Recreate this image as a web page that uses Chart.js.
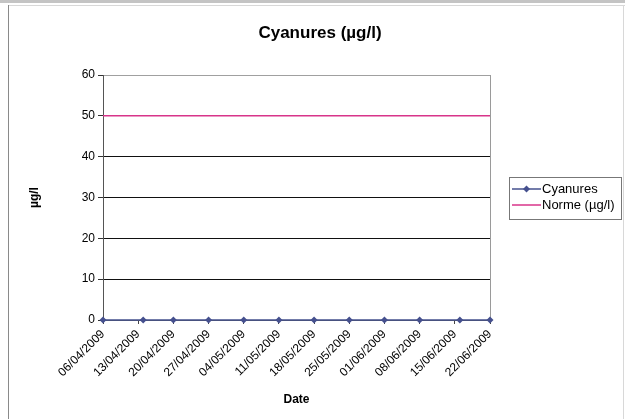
<!DOCTYPE html>
<html><head><meta charset="utf-8">
<script src="https://cdn.jsdelivr.net/npm/chart.js@4/dist/chart.umd.min.js"></script>
<style>html,body{margin:0;padding:0;background:#fff;}</style>
</head><body>
<canvas id="c" width="625" height="419"></canvas>
<script>
// ---- data ----
const chartTitle = 'Cyanures (µg/l)';
const yAxisTitle = 'µg/l';
const xAxisTitle = 'Date';
const seriesNames = ['Cyanures', 'Norme (µg/l)'];
const sampleDates = ['06/04/2009','14/04/2009','20/04/2009','27/04/2009','04/05/2009','11/05/2009','18/05/2009','25/05/2009','01/06/2009','08/06/2009','16/06/2009','22/06/2009'];
const cyanuresValues = [0,0,0,0,0,0,0,0,0,0,0,0];
const normeDates = ['06/04/2009','22/06/2009'];
const normeValues = [50,50];
const axisStartDate = '06/04/2009';
const axisEndDate = '22/06/2009';
const xTickStepDays = 7;
const yMin = 0, yMax = 60, yStep = 10;

// ---- helpers ----
function dayNum(s){const [d,m,y]=s.split('/').map(Number);return Date.UTC(y,m-1,d)/86400000;}
const day0 = dayNum(axisStartDate);
function offset(s){return dayNum(s)-day0;}
function fmt(v){const dt=new Date((day0+v)*86400000);const p=n=>String(n).padStart(2,'0');return p(dt.getUTCDate())+'/'+p(dt.getUTCMonth()+1)+'/'+dt.getUTCFullYear();}

const FONT = "'Liberation Sans', Arial, sans-serif";

const framePlugin = {
  id:'frame',
  beforeDraw(chart){
    const ctx=chart.ctx;
    ctx.save();
    ctx.fillStyle='#fff';ctx.fillRect(0,0,chart.width,chart.height);
    ctx.fillStyle='#c4c4c4';ctx.fillRect(0,0,chart.width,3);
    ctx.strokeStyle='#8a8a8a';ctx.lineWidth=1;
    ctx.beginPath();ctx.moveTo(8.5,5);ctx.lineTo(8.5,chart.height);ctx.stroke();
    ctx.strokeStyle='#d8d8d8';
    ctx.beginPath();ctx.moveTo(9,5.5);ctx.lineTo(chart.width,5.5);ctx.stroke();
    ctx.beginPath();ctx.moveTo(623.5,5);ctx.lineTo(623.5,chart.height);ctx.stroke();
    // title
    ctx.fillStyle='#000';ctx.font='bold 17px '+FONT;ctx.textAlign='center';ctx.textBaseline='middle';
    ctx.fillText(chartTitle,320,33);
    ctx.restore();
  },
  beforeDatasetsDraw(chart){
    const {ctx,chartArea:a}=chart;
    ctx.save();ctx.strokeStyle='#9a9a9a';ctx.lineWidth=1;
    ctx.beginPath();ctx.moveTo(Math.round(a.right)+0.5,a.top);ctx.lineTo(Math.round(a.right)+0.5,a.bottom);ctx.stroke();
    ctx.restore();
  },
  afterDraw(chart){
    const ctx=chart.ctx;
    const bx=509.5, by=177.5, bw=112, bh=42;
    ctx.save();
    ctx.strokeStyle='#777';ctx.lineWidth=1;ctx.strokeRect(bx,by,bw,bh);
    ctx.font='13px '+FONT;ctx.textBaseline='middle';ctx.textAlign='left';
    chart.data.datasets.forEach((ds,i)=>{
      const y=189+i*16;
      ctx.strokeStyle=ds.borderColor;ctx.lineWidth=ds.borderWidth;
      ctx.beginPath();ctx.moveTo(512,y);ctx.lineTo(541,y);ctx.stroke();
      if(ds.pointRadius>0){
        const r=ds.pointRadius, cx=526.5;
        ctx.fillStyle=ds.borderColor;
        ctx.beginPath();ctx.moveTo(cx,y-r);ctx.lineTo(cx+r,y);ctx.lineTo(cx,y+r);ctx.lineTo(cx-r,y);ctx.closePath();ctx.fill();
      }
      ctx.fillStyle='#000';
      ctx.fillText(ds.label,542,y+0.5);
    });
    ctx.restore();
  }
};

new Chart(document.getElementById('c'),{
  type:'line',
  data:{datasets:[
    {label:seriesNames[0],data:sampleDates.map((d,i)=>({x:offset(d),y:cyanuresValues[i]})),
     borderColor:'#45508e',backgroundColor:'#45508e',borderWidth:1.5,pointStyle:'rectRot',pointRadius:3.5,
     pointBackgroundColor:'#45508e',pointBorderColor:'#45508e',pointBorderWidth:0,clip:10,order:0},
    {label:seriesNames[1],data:normeDates.map((d,i)=>({x:offset(d),y:normeValues[i]})),
     borderColor:'#d8348a',backgroundColor:'#d8348a',borderWidth:1.5,pointRadius:0,clip:10,order:1}
  ]},
  options:{
    responsive:false,animation:false,devicePixelRatio:1,
    layout:{padding:{left:8,right:135,top:75,bottom:0}},
    plugins:{legend:{display:false},tooltip:{enabled:false},title:{display:false}},
    scales:{
      x:{type:'linear',min:0,max:offset(axisEndDate),
        afterFit(s){s.height=99;},
        ticks:{stepSize:xTickStepDays,autoSkip:false,minRotation:45,maxRotation:45,callback:v=>fmt(v),
          color:'#000',font:{family:FONT,size:12},padding:3},
        grid:{drawOnChartArea:false,drawTicks:true,tickLength:4,color:'#444'},
        border:{color:'#555'},
        title:{display:true,text:xAxisTitle,color:'#000',font:{family:FONT,size:12,weight:'bold'},padding:{top:0,bottom:12}}
      },
      y:{min:yMin,max:yMax,
        afterFit(s){s.width=95;},
        ticks:{stepSize:yStep,color:'#000',font:{family:FONT,size:12},padding:3},
        grid:{color:c=>c.tick&&c.tick.value===yMax?'#a0a0a0':'#111',tickColor:'#333',tickLength:5,lineWidth:1},
        border:{color:'#555'},
        title:{display:true,text:yAxisTitle,color:'#000',font:{family:FONT,size:12,weight:'bold'},padding:{top:19,bottom:0}}
      }
    }
  },
  plugins:[framePlugin]
});
</script>
</body></html>
